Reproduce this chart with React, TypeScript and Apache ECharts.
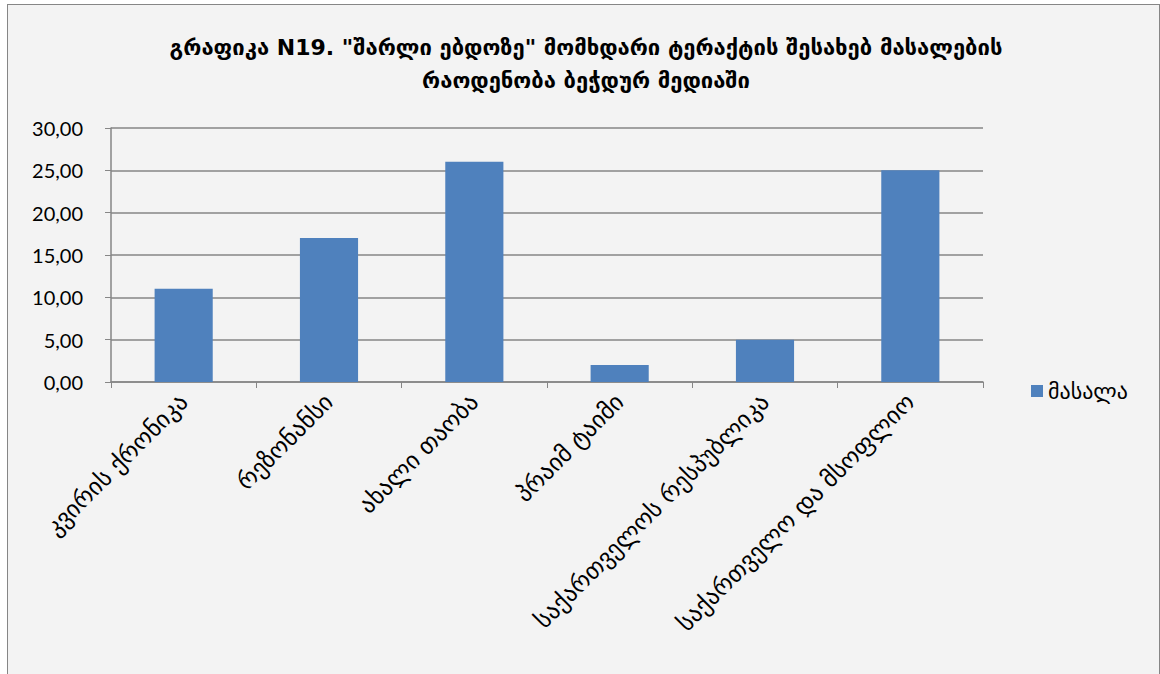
import React, { useEffect, useRef } from "react";
import * as echarts from "echarts";

const titleText =
  'გრაფიკა N19. "შარლი ებდოზე" მომხდარი ტერაქტის შესახებ მასალების\nრაოდენობა ბეჭდურ მედიაში';
const categories = [
  "კვირის ქრონიკა",
  "რეზონანსი",
  "ახალი თაობა",
  "პრაიმ ტაიმი",
  "საქართველოს რესპუბლიკა",
  "საქართველო და მსოფლიო",
];
const seriesName = "მასალა";
const values = [11, 17, 26, 2, 5, 25];
const yTicks = { min: 0, max: 30, interval: 5 };

const GEO = "'DejaVu Sans', 'Noto Sans', sans-serif";
const NUM = "Lato, 'Open Sans', sans-serif";

export default function App() {
  const ref = useRef<HTMLDivElement>(null);
  useEffect(() => {
    if (!ref.current) return;
    const chart = echarts.init(ref.current, null, { renderer: "svg" });
    chart.setOption({
      animation: false,
      backgroundColor: "transparent",
      title: {
        text: titleText,
        left: 581,
        top: 26,
        textAlign: "center",
        textStyle: {
          fontFamily: GEO,
          fontSize: 22,
          fontWeight: "bold",
          color: "#000",
          lineHeight: 33,
        },
      },
      legend: {
        left: 1026,
        top: 375,
        itemWidth: 12,
        itemHeight: 12,
        icon: "rect",
        data: [seriesName],
        textStyle: { fontFamily: GEO, fontSize: 22, color: "#000" },
      },
      grid: { left: 111, right: 177, top: 128, bottom: 292, containLabel: false },
      xAxis: {
        type: "category",
        data: categories,
        axisLine: { lineStyle: { color: "#868686", width: 1.5 } },
        axisTick: { show: true, length: 6, lineStyle: { color: "#868686" } },
        axisLabel: {
          rotate: 45,
          interval: 0,
          margin: 16,
          fontFamily: GEO,
          fontSize: 24,
          color: "#000",
        },
      },
      yAxis: {
        type: "value",
        min: yTicks.min,
        max: yTicks.max,
        interval: yTicks.interval,
        axisLine: { show: true, lineStyle: { color: "#868686", width: 1.5 } },
        axisTick: { show: true, length: 6, lineStyle: { color: "#868686" } },
        splitLine: { lineStyle: { color: "#868686", width: 1.5 } },
        axisLabel: {
          margin: 28,
          fontFamily: NUM,
          fontSize: 20,
          color: "#000",
          formatter: (v: number) => v.toFixed(2).replace(".", ","),
        },
      },
      series: [
        {
          name: seriesName,
          type: "bar",
          data: values,
          barWidth: "40%",
          itemStyle: { color: "#4f81bd" },
        },
      ],
    });
    return () => chart.dispose();
  }, []);

  return (
    <div
      style={{
        position: "absolute",
        left: 0,
        top: 0,
        width: 1160,
        height: 674,
        overflow: "hidden",
        background: "#fff",
      }}
    >
      <div
        style={{
          position: "absolute",
          left: 7,
          top: 4,
          width: 1153,
          height: 720,
          boxSizing: "border-box",
          border: "1.5px solid #868686",
          background: "#f3f3f3",
        }}
      />
      <div
        ref={ref}
        style={{ position: "absolute", left: 0, top: 0, width: 1160, height: 674 }}
      />
    </div>
  );
}
